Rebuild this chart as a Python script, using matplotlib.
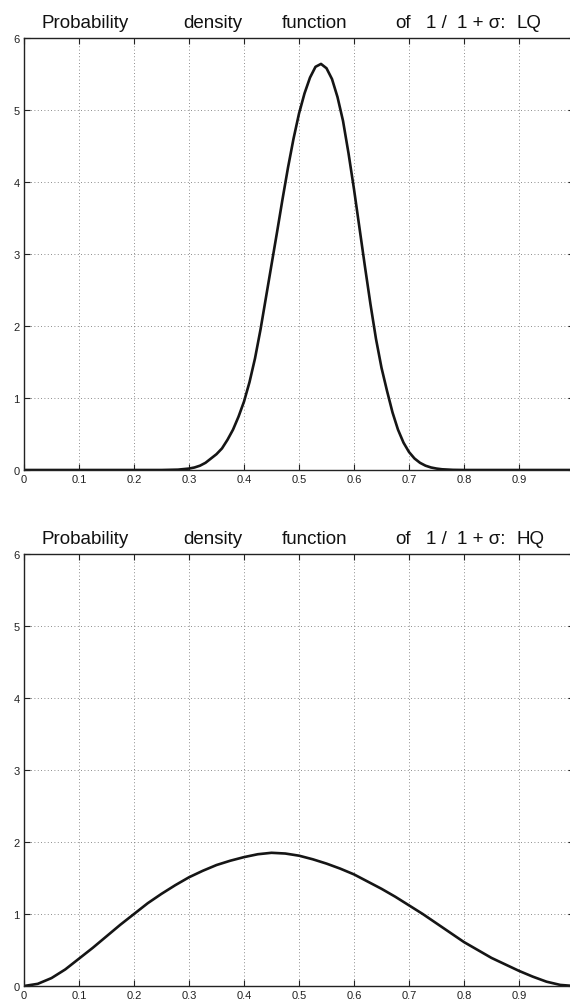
import numpy as np
import matplotlib
matplotlib.use("Agg")
import matplotlib.pyplot as plt

plt.rcParams['font.family'] = ['Liberation Sans', 'DejaVu Sans']

# density of 1/(1+sigma), low quality
x_lq = [0.0, 0.25, 0.28, 0.30, 0.31, 0.32, 0.33, 0.34, 0.35, 0.36, 0.37, 0.38,
        0.39, 0.40, 0.41, 0.42, 0.43, 0.44, 0.45, 0.46, 0.47, 0.48, 0.49, 0.50,
        0.51, 0.52, 0.53, 0.54, 0.55, 0.56, 0.57, 0.58, 0.59, 0.60, 0.61, 0.62,
        0.63, 0.64, 0.65, 0.66, 0.67, 0.68, 0.69, 0.70, 0.71, 0.72, 0.73, 0.74,
        0.75, 0.76, 0.78, 0.80, 1.0]
y_lq = [0.0, 0.0, 0.005, 0.02, 0.035, 0.06, 0.10, 0.16, 0.22, 0.30, 0.42, 0.56,
        0.74, 0.95, 1.22, 1.55, 1.95, 2.40, 2.85, 3.30, 3.76, 4.20, 4.60, 4.95,
        5.23, 5.45, 5.60, 5.64, 5.58, 5.43, 5.18, 4.85, 4.40, 3.90, 3.36, 2.82,
        2.30, 1.82, 1.42, 1.10, 0.80, 0.56, 0.38, 0.25, 0.16, 0.10, 0.06, 0.035,
        0.02, 0.01, 0.002, 0.0, 0.0]

# high quality
x_hq = [0.0, 0.025, 0.05, 0.075, 0.10, 0.125, 0.15, 0.175, 0.20, 0.225, 0.25,
        0.275, 0.30, 0.325, 0.35, 0.375, 0.40, 0.425, 0.45, 0.475, 0.50, 0.525,
        0.55, 0.575, 0.60, 0.625, 0.65, 0.675, 0.70, 0.725, 0.75, 0.775, 0.80,
        0.825, 0.85, 0.875, 0.90, 0.925, 0.95, 0.975, 1.0]
y_hq = [0.0, 0.03, 0.11, 0.23, 0.38, 0.53, 0.69, 0.85, 1.00, 1.15, 1.28,
        1.40, 1.51, 1.60, 1.68, 1.74, 1.79, 1.83, 1.85, 1.84, 1.81, 1.76,
        1.70, 1.63, 1.55, 1.45, 1.35, 1.24, 1.12, 1.00, 0.87, 0.74, 0.61,
        0.50, 0.39, 0.30, 0.21, 0.13, 0.06, 0.015, 0.0]

xticks = np.arange(0, 1.0, 0.1)
xlabels = ['0', '0.1', '0.2', '0.3', '0.4', '0.5', '0.6', '0.7', '0.8', '0.9']
yticks = [0, 1, 2, 3, 4, 5, 6]

W, H = 570, 1004
fig = plt.figure(figsize=(W / 100, H / 100), dpi=100)

title_words = ['Probability', 'density', 'function', 'of', '1 /', '1 + \u03c3:']
title_px = [42, 183, 282, 395, 426, 457, 516]


def make_axes(top_px, xs, ys, tag):
    ax = fig.add_axes([24 / W, 1 - (top_px + 432) / H, 550 / W, 432 / H])
    ax.plot(xs, ys, color='#151515', lw=1.9)
    ax.set_xlim(0, 1)
    ax.set_ylim(0, 6)
    ax.set_xticks(xticks)
    ax.set_xticklabels(xlabels)
    ax.set_yticks(yticks)
    ax.tick_params(direction='in', length=4, width=0.8, labelsize=8,
                   top=True, right=True, pad=3, colors='#222222')
    ax.grid(True, linestyle=(0, (1, 3)), color='#666666', linewidth=0.6)
    for s in ax.spines.values():
        s.set_linewidth(1.0)
        s.set_color('#222222')
    words = title_words + [tag]
    for w, px in zip(words, title_px):
        fig.text(px / W, 1 - (top_px - 15) / H, w, fontsize=13.5,
                 ha='left', va='center', color='#111111')
    return ax


make_axes(39, x_lq, y_lq, 'LQ')
make_axes(555, x_hq, y_hq, 'HQ')

fig.savefig('out.png', dpi=100)
